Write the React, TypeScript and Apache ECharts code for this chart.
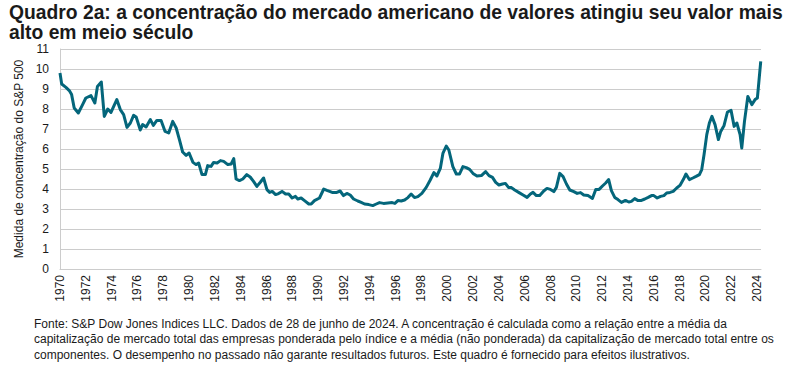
import React, { useEffect, useRef } from "react";
import * as echarts from "echarts";

const titleLines = [
  "Quadro 2a: a concentração do mercado americano de valores atingiu seu valor mais",
  "alto em meio século",
];
const noteLines = [
  "Fonte: S&P Dow Jones Indices LLC. Dados de 28 de junho de 2024. A concentração é calculada como a relação entre a média da",
  "capitalização de mercado total das empresas ponderada pelo índice e a média (não ponderada) da capitalização de mercado total entre os",
  "componentes. O desempenho no passado não garante resultados futuros. Este quadro é fornecido para efeitos ilustrativos.",
];
const yAxisName = "Medida de concentração do S&P 500";

const years1970s = [1970.0, 1970.13, 1970.46, 1970.72, 1970.9, 1971.1, 1971.42, 1971.75, 1972.0, 1972.4, 1972.7, 1972.9, 1973.2, 1973.43, 1973.7, 1973.95, 1974.16, 1974.4, 1974.67, 1974.93, 1975.19, 1975.45, 1975.7, 1975.9, 1976.22, 1976.4, 1976.67, 1977.0, 1977.23, 1977.5, 1977.83, 1978.14, 1978.42, 1978.73, 1979.0, 1979.25, 1979.5, 1979.77];
const values1970s = [9.8, 9.25, 9.08, 8.92, 8.72, 8.05, 7.8, 8.22, 8.55, 8.67, 8.3, 9.13, 9.35, 7.63, 8.0, 7.83, 8.13, 8.47, 7.97, 7.72, 7.08, 7.3, 7.68, 7.6, 6.95, 7.22, 7.1, 7.47, 7.18, 7.43, 7.43, 6.88, 6.8, 7.38, 7.05, 6.47, 5.85, 5.68];

const years1980s = [1980.0, 1980.3, 1980.54, 1980.74, 1981.0, 1981.26, 1981.44, 1981.7, 1981.9, 1982.17, 1982.43, 1982.68, 1983.0, 1983.26, 1983.46, 1983.64, 1983.9, 1984.16, 1984.47, 1984.73, 1984.99, 1985.25, 1985.53, 1985.77, 1986.03, 1986.24, 1986.44, 1986.7, 1986.93, 1987.2, 1987.47, 1987.72, 1987.98, 1988.24, 1988.42, 1988.68, 1988.94, 1989.27, 1989.46, 1989.71];
const values1980s = [5.8, 5.33, 5.22, 5.3, 4.72, 4.72, 5.17, 5.13, 5.33, 5.3, 5.42, 5.38, 5.22, 5.25, 5.52, 4.5, 4.42, 4.5, 4.72, 4.6, 4.38, 4.13, 4.35, 4.55, 3.97, 3.83, 3.88, 3.72, 3.77, 3.88, 3.75, 3.75, 3.55, 3.63, 3.5, 3.55, 3.42, 3.25, 3.25, 3.42];

const years1990s = [1990.1, 1990.43, 1990.67, 1990.88, 1991.13, 1991.44, 1991.7, 1991.96, 1992.22, 1992.48, 1992.74, 1993.07, 1993.33, 1993.59, 1993.92, 1994.23, 1994.5, 1994.75, 1995.06, 1995.4, 1995.73, 1995.94, 1996.17, 1996.43, 1996.69, 1996.95, 1997.2, 1997.46, 1997.72, 1998.03, 1998.37, 1998.68, 1998.96, 1999.19, 1999.46, 1999.66, 1999.92];
const values1990s = [3.55, 4.0, 3.93, 3.88, 3.82, 3.83, 3.9, 3.67, 3.78, 3.7, 3.5, 3.4, 3.33, 3.25, 3.22, 3.17, 3.25, 3.32, 3.28, 3.3, 3.32, 3.28, 3.42, 3.4, 3.45, 3.57, 3.75, 3.57, 3.62, 3.78, 4.08, 4.45, 4.82, 4.65, 5.03, 5.78, 6.15];

const years2000s = [2000.12, 2000.43, 2000.7, 2000.95, 2001.21, 2001.47, 2001.73, 2001.99, 2002.3, 2002.64, 2002.97, 2003.23, 2003.5, 2003.75, 2004.0, 2004.27, 2004.5, 2004.74, 2004.97, 2005.22, 2005.56, 2005.87, 2006.18, 2006.44, 2006.64, 2006.9, 2007.16, 2007.47, 2007.72, 2007.99, 2008.25, 2008.45, 2008.71, 2008.97, 2009.23, 2009.49, 2009.8];
const values2000s = [5.95, 5.12, 4.75, 4.75, 5.12, 5.07, 4.98, 4.78, 4.65, 4.67, 4.87, 4.67, 4.58, 4.33, 4.2, 4.25, 4.28, 4.08, 4.07, 3.95, 3.82, 3.7, 3.58, 3.75, 3.83, 3.67, 3.67, 3.9, 4.03, 3.98, 3.87, 4.08, 4.78, 4.62, 4.25, 3.95, 3.87];

const years2010s = [2010.06, 2010.32, 2010.57, 2010.9, 2011.24, 2011.5, 2011.76, 2012.02, 2012.27, 2012.5, 2012.71, 2012.97, 2013.22, 2013.49, 2013.8, 2014.06, 2014.26, 2014.52, 2014.78, 2015.04, 2015.3, 2015.56, 2015.82, 2016.0, 2016.26, 2016.52, 2016.78, 2016.99, 2017.25, 2017.5, 2017.77, 2018.02, 2018.28, 2018.49, 2018.75, 2019.02, 2019.27, 2019.53, 2019.71, 2019.89];
const values2010s = [3.78, 3.82, 3.7, 3.67, 3.53, 3.98, 3.98, 4.15, 4.3, 4.47, 3.92, 3.58, 3.47, 3.33, 3.43, 3.35, 3.38, 3.52, 3.42, 3.43, 3.5, 3.58, 3.67, 3.67, 3.55, 3.63, 3.67, 3.8, 3.83, 3.88, 4.05, 4.18, 4.47, 4.75, 4.47, 4.55, 4.63, 4.72, 4.97, 5.72];

const years2020s = [2020.1, 2020.3, 2020.5, 2020.74, 2021.0, 2021.18, 2021.44, 2021.7, 2021.98, 2022.22, 2022.43, 2022.68, 2022.81, 2023.02, 2023.28, 2023.59, 2023.84, 2024.02, 2024.28];
const values2020s = [6.72, 7.3, 7.63, 7.22, 6.47, 6.88, 7.18, 7.85, 7.93, 7.13, 7.3, 6.72, 6.05, 7.38, 8.63, 8.22, 8.47, 8.55, 10.38];

const allYears = [...years1970s, ...years1980s, ...years1990s, ...years2000s, ...years2010s, ...years2020s];
const allValues = [...values1970s, ...values1980s, ...values1990s, ...values2000s, ...values2010s, ...values2020s];

const FONT = '"Liberation Sans", Arial, sans-serif';

export default function App() {
  const ref = useRef<HTMLDivElement>(null);
  useEffect(() => {
    if (!ref.current) return;
    const chart = echarts.init(ref.current, null, { renderer: "svg" });
    const data = allYears.map((y, i) => [y, allValues[i]]);
    chart.setOption({
      animation: false,
      backgroundColor: "#ffffff",
      textStyle: { fontFamily: FONT },
      grid: { left: 60, right: 31, top: 49, bottom: 103, containLabel: false },
      xAxis: {
        type: "value",
        min: 1970,
        max: 2024.3,
        interval: 2,
        axisLine: { show: true, lineStyle: { color: "#cccccc", width: 1 } },
        axisTick: { show: false },
        splitLine: { show: false },
        axisLabel: {
          rotate: 90,
          margin: 6,
          color: "#1a1a1a",
          fontSize: 12,
          fontFamily: FONT,
          showMaxLabel: false,
          formatter: (v: number) => (Number.isInteger(v) && v % 2 === 0 ? String(v) : ""),
        },
      },
      yAxis: {
        type: "value",
        min: 0,
        max: 11,
        interval: 1,
        name: yAxisName,
        nameLocation: "middle",
        nameGap: 29,
        nameTextStyle: { color: "#1a1a1a", fontSize: 12, fontFamily: FONT },
        axisLine: { show: true, lineStyle: { color: "#cccccc", width: 1 } },
        axisTick: { show: false },
        splitLine: { show: true, lineStyle: { color: "#cccccc", width: 1 } },
        axisLabel: { color: "#1a1a1a", fontSize: 12, margin: 11, fontFamily: FONT },
      },
      series: [
        {
          type: "line",
          data,
          showSymbol: false,
          symbol: "none",
          lineStyle: { color: "#04667b", width: 3, join: "round" },
          itemStyle: { color: "#04667b" },
        },
      ],
      graphic: [
        {
          type: "text",
          left: 9,
          top: 2,
          style: {
            text: titleLines.join("\n"),
            font: `bold 19.3px ${FONT}`,
            fill: "#1a1a1a",
            lineHeight: 20,
          },
        },
        {
          type: "text",
          left: 34,
          top: 316,
          style: {
            text: noteLines.join("\n"),
            font: `12px ${FONT}`,
            fill: "#1a1a1a",
            lineHeight: 15.5,
          },
        },
      ],
    });
    return () => chart.dispose();
  }, []);
  return (
    <div
      ref={ref}
      style={{ position: "fixed", left: 0, top: 0, width: 792, height: 372, background: "#fff" }}
    />
  );
}
